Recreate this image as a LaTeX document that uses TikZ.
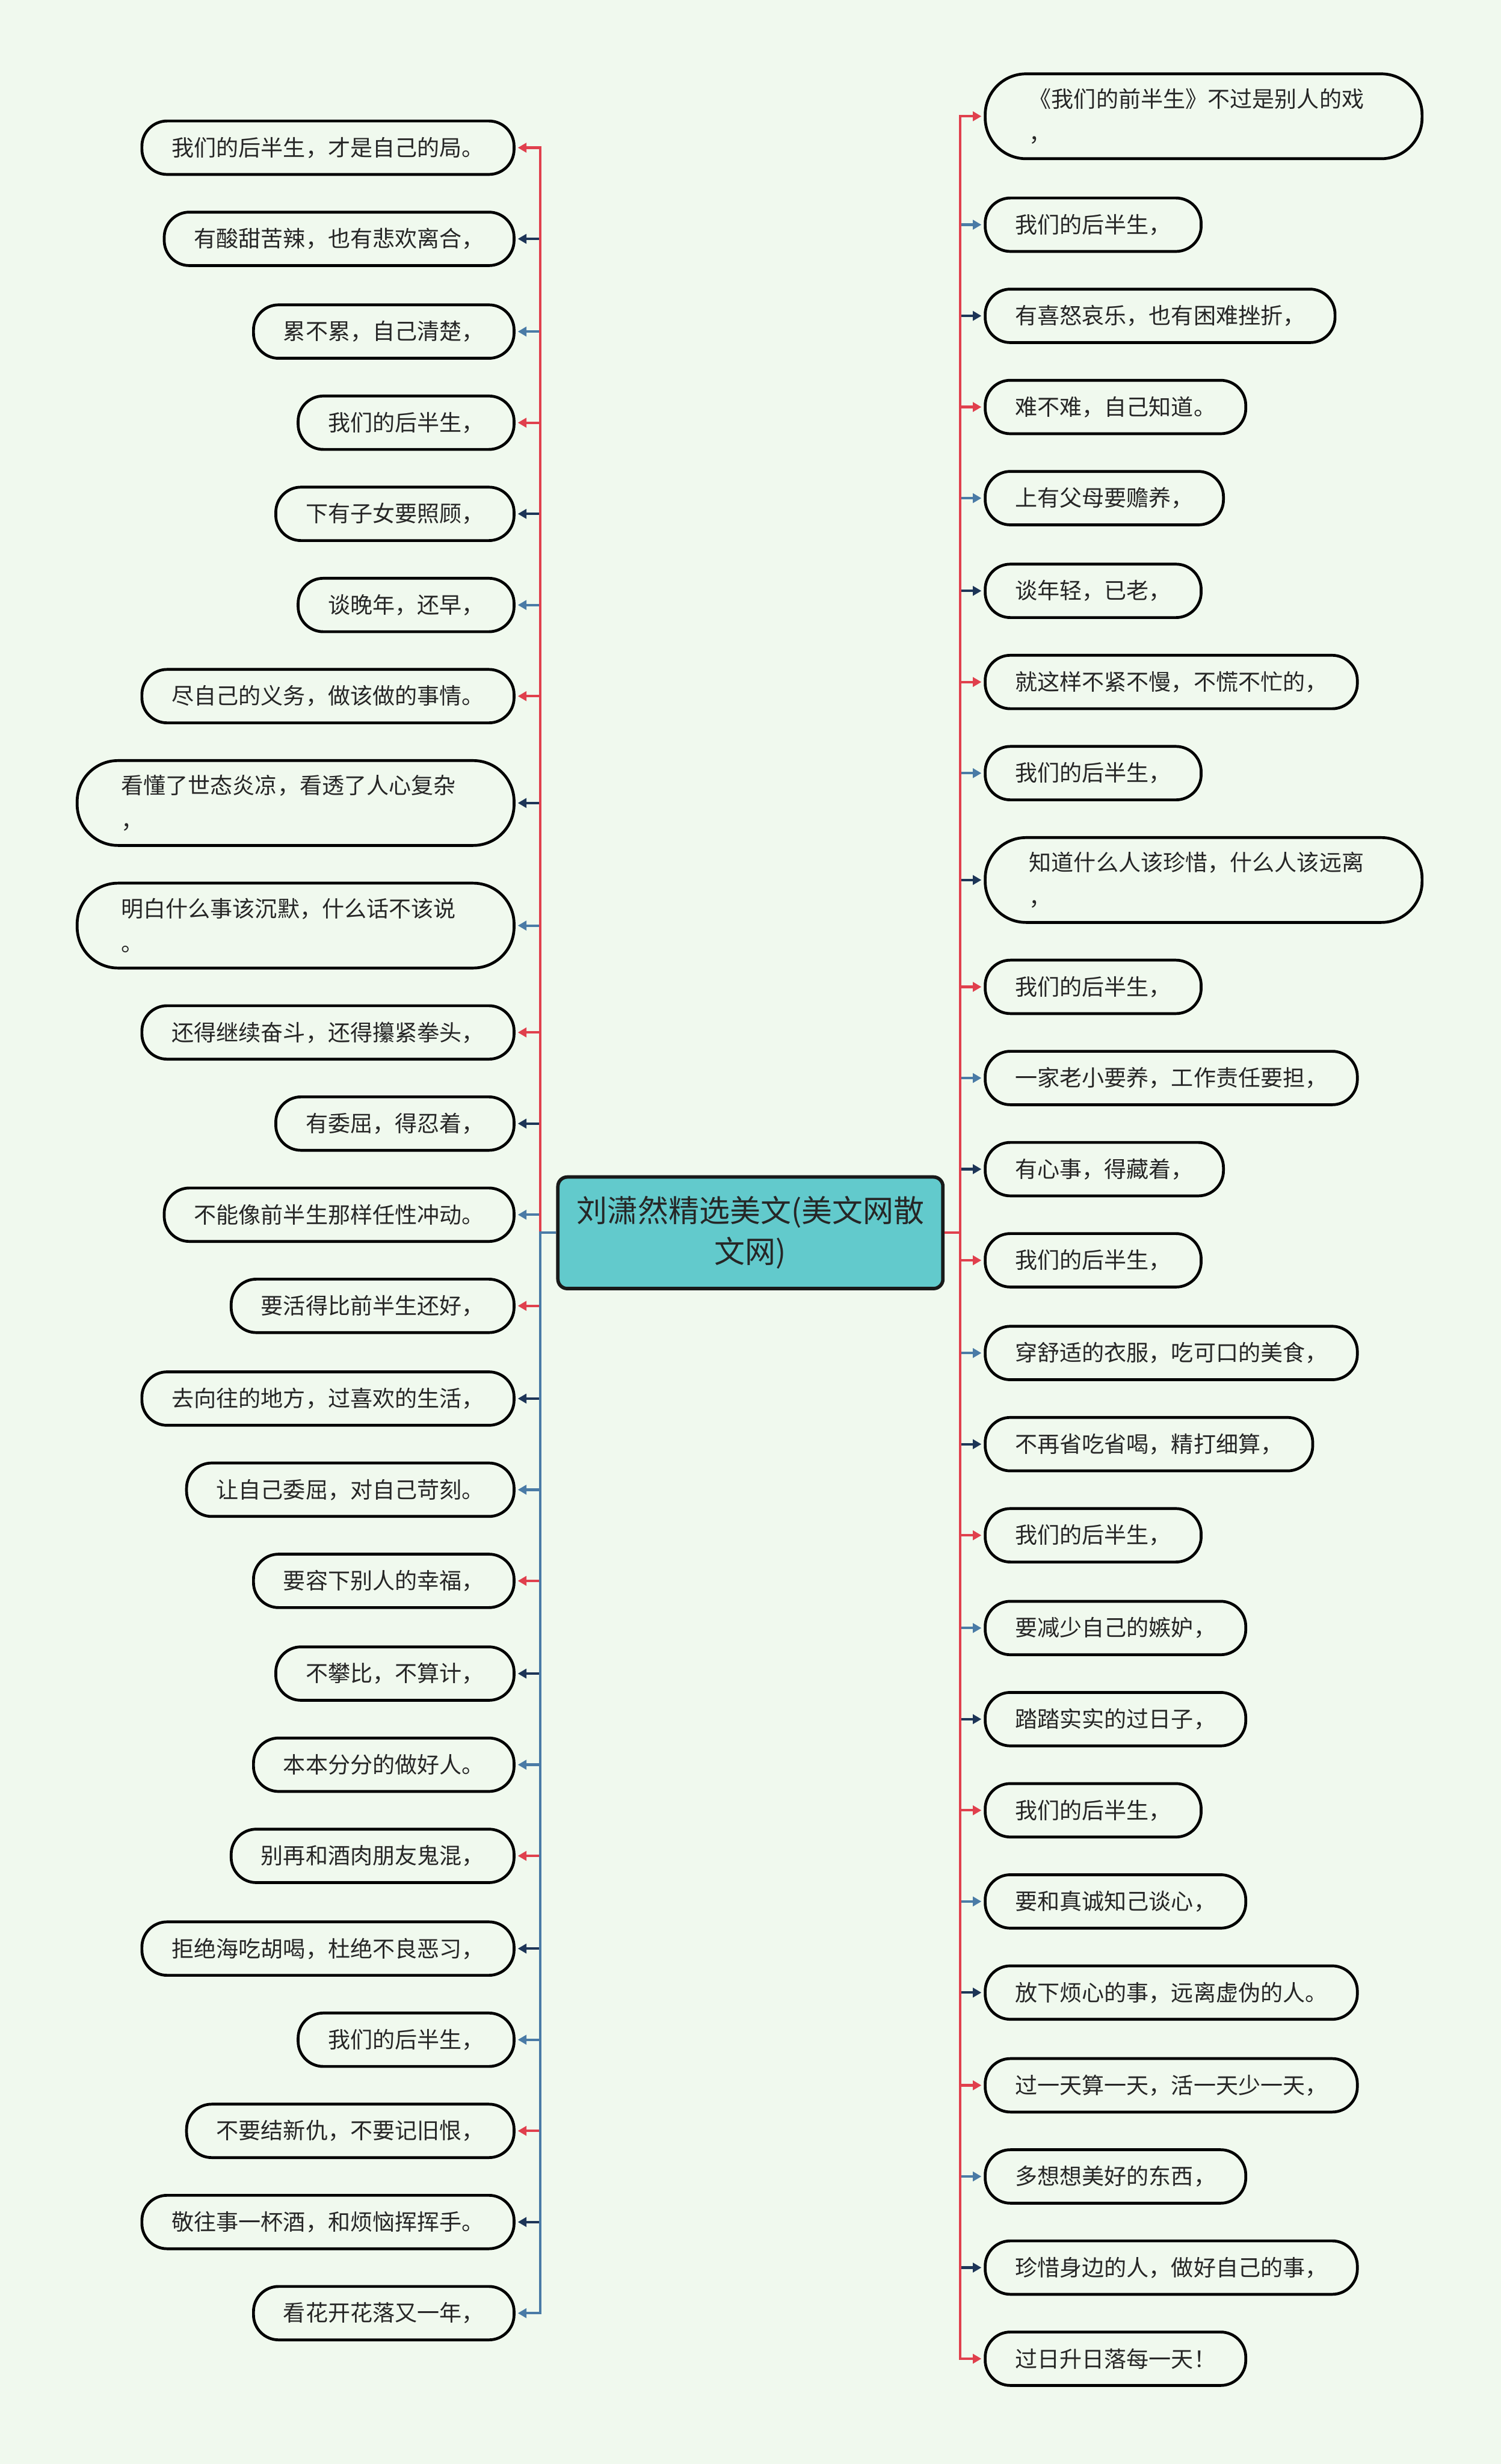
\documentclass[tikz,border=0pt]{standalone}
\usepackage{fontspec}
\setmainfont{Noto Sans CJK SC}
\usetikzlibrary{arrows.meta,positioning}
\definecolor{bgcol}{HTML}{F0F9EE}
\definecolor{txtcol}{HTML}{262626}
\definecolor{rootfill}{HTML}{62CACC}
\definecolor{redline}{HTML}{E0404D}
\definecolor{blueline}{HTML}{4A7BA6}
\definecolor{navyline}{HTML}{1D3557}
\tikzset{
    leaf/.style={draw=black, line width=1.8pt, rounded corners=16pt,
        text=txtcol, font=\fontsize{14.2}{22}\selectfont,
        inner xsep=19pt, inner ysep=0pt, minimum height=34pt},
    leafwide/.style={leaf, rounded corners=26pt, minimum height=54pt,
        text width=222pt, align=left, inner xsep=28pt},
    root/.style={draw=black!90, line width=2.2pt, rounded corners=6pt,
        fill=rootfill, text=txtcol, align=center,
        font=\fontsize{19.5}{26}\selectfont,
        minimum width=245pt, minimum height=71pt},
    link/.style={line width=1.6pt, shorten >=1.5pt,
        -{Triangle[length=5.5pt,width=6pt]}},
    % colour cycles of the two sides
    lc1/.style={redline}, lc2/.style={navyline}, lc0/.style={blueline},
    rc1/.style={redline}, rc2/.style={blueline}, rc0/.style={navyline}
}

\begin{document}
\begin{tikzpicture}[x=1pt, y=-1pt]

    \fill[bgcol] (0,0) rectangle (955,1568);
    \useasboundingbox (0,0) rectangle (955,1568);

    \node[root] (c) at (477.5,784.5) {刘潇然精选美文(美文网散\\文网)};

    % left side
    \foreach \i/\y/\s/\t in {
        1/94/leaf/{我们的后半生，才是自己的局。},
        2/152/leaf/{有酸甜苦辣，也有悲欢离合，},
        3/211/leaf/{累不累，自己清楚，},
        4/269/leaf/{我们的后半生，},
        5/327/leaf/{下有子女要照顾，},
        6/385/leaf/{谈晚年，还早，},
        7/443/leaf/{尽自己的义务，做该做的事情。},
        8/511/leafwide/{看懂了世态炎凉，看透了人心复杂\\，},
        9/589/leafwide/{明白什么事该沉默，什么话不该说\\。},
        10/657/leaf/{还得继续奋斗，还得攥紧拳头，},
        11/715/leaf/{有委屈，得忍着，},
        12/773/leaf/{不能像前半生那样任性冲动。},
        13/831/leaf/{要活得比前半生还好，},
        14/890/leaf/{去向往的地方，过喜欢的生活，},
        15/948/leaf/{让自己委屈，对自己苛刻。},
        16/1006/leaf/{要容下别人的幸福，},
        17/1065/leaf/{不攀比，不算计，},
        18/1123/leaf/{本本分分的做好人。},
        19/1181/leaf/{别再和酒肉朋友鬼混，},
        20/1240/leaf/{拒绝海吃胡喝，杜绝不良恶习，},
        21/1298/leaf/{我们的后半生，},
        22/1356/leaf/{不要结新仇，不要记旧恨，},
        23/1414/leaf/{敬往事一杯酒，和烦恼挥挥手。},
        24/1472/leaf/{看花开花落又一年，}}
        \node[\s, anchor=east] (l\i) at (328,\y) {\t};

    % right side
    \foreach \i/\y/\s/\t in {
        1/74/leafwide/{《我们的前半生》不过是别人的戏\\，},
        2/143/leaf/{我们的后半生，},
        3/201/leaf/{有喜怒哀乐，也有困难挫折，},
        4/259/leaf/{难不难，自己知道。},
        5/317/leaf/{上有父母要赡养，},
        6/376/leaf/{谈年轻，已老，},
        7/434/leaf/{就这样不紧不慢，不慌不忙的，},
        8/492/leaf/{我们的后半生，},
        9/560/leafwide/{知道什么人该珍惜，什么人该远离\\，},
        10/628/leaf/{我们的后半生，},
        11/686/leaf/{一家老小要养，工作责任要担，},
        12/744/leaf/{有心事，得藏着，},
        13/802/leaf/{我们的后半生，},
        14/861/leaf/{穿舒适的衣服，吃可口的美食，},
        15/919/leaf/{不再省吃省喝，精打细算，},
        16/977/leaf/{我们的后半生，},
        17/1036/leaf/{要减少自己的嫉妒，},
        18/1094/leaf/{踏踏实实的过日子，},
        19/1152/leaf/{我们的后半生，},
        20/1210/leaf/{要和真诚知己谈心，},
        21/1268/leaf/{放下烦心的事，远离虚伪的人。},
        22/1327/leaf/{过一天算一天，活一天少一天，},
        23/1385/leaf/{多想想美好的东西，},
        24/1443/leaf/{珍惜身边的人，做好自己的事，},
        25/1501/leaf/{过日升日落每一天！}}
        \node[\s, anchor=west] (r\i) at (626,\y) {\t};

    % connectors, nearest first so the outer ones lie on top
    \foreach \i in {12,11,...,1,13,14,...,24} {
        \pgfmathtruncatemacro\k{mod(\i,3)}
        \draw[link, lc\k] (c.west) -- ++(-10,0) |- (l\i.east);
    }
    \foreach \i in {12,11,...,1,13,14,...,25} {
        \pgfmathtruncatemacro\k{mod(\i,3)}
        \draw[link, rc\k] (c.east) -- ++(10,0) |- (r\i.west);
    }

\end{tikzpicture}
\end{document}
